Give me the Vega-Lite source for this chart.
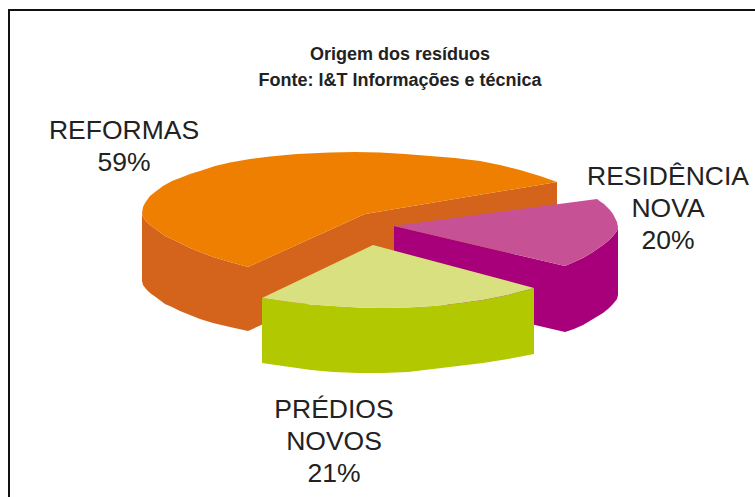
{"$schema":"https://vega.github.io/schema/vega-lite/v6.json","width":755,"height":497,"padding":0,"autosize":"none","background":"white","view":{"stroke":null},
"datasets":{"faces":[
{"face":"Reformas lado","i":1,"x":142,"y":213},{"face":"Reformas lado","i":2,"x":143,"y":217},{"face":"Reformas lado","i":3,"x":146,"y":221},{"face":"Reformas lado","i":4,"x":150,"y":225},{"face":"Reformas lado","i":5,"x":157,"y":230},{"face":"Reformas lado","i":6,"x":165,"y":236},{"face":"Reformas lado","i":7,"x":172,"y":239},{"face":"Reformas lado","i":8,"x":180,"y":243},{"face":"Reformas lado","i":9,"x":190,"y":248},{"face":"Reformas lado","i":10,"x":200,"y":252},{"face":"Reformas lado","i":11,"x":213,"y":257},{"face":"Reformas lado","i":12,"x":230,"y":262},{"face":"Reformas lado","i":13,"x":248,"y":267},{"face":"Reformas lado","i":14,"x":248,"y":331},{"face":"Reformas lado","i":15,"x":230,"y":327},{"face":"Reformas lado","i":16,"x":213,"y":323},{"face":"Reformas lado","i":17,"x":200,"y":319},{"face":"Reformas lado","i":18,"x":190,"y":315},{"face":"Reformas lado","i":19,"x":180,"y":311},{"face":"Reformas lado","i":20,"x":172,"y":307},{"face":"Reformas lado","i":21,"x":165,"y":304},{"face":"Reformas lado","i":22,"x":157,"y":298},{"face":"Reformas lado","i":23,"x":150,"y":293},{"face":"Reformas lado","i":24,"x":146,"y":289},{"face":"Reformas lado","i":25,"x":143,"y":285},{"face":"Reformas lado","i":26,"x":142,"y":281},
{"face":"Reformas interno","i":1,"x":248,"y":267},{"face":"Reformas interno","i":2,"x":365,"y":214},{"face":"Reformas interno","i":3,"x":557,"y":182},{"face":"Reformas interno","i":4,"x":557,"y":246},{"face":"Reformas interno","i":5,"x":365,"y":278},{"face":"Reformas interno","i":6,"x":248,"y":331},
{"face":"Reformas topo","i":1,"x":142,"y":213},{"face":"Reformas topo","i":2,"x":143,"y":207},{"face":"Reformas topo","i":3,"x":145,"y":203},{"face":"Reformas topo","i":4,"x":150,"y":196},{"face":"Reformas topo","i":5,"x":155,"y":192},{"face":"Reformas topo","i":6,"x":163,"y":186},{"face":"Reformas topo","i":7,"x":172,"y":181},{"face":"Reformas topo","i":8,"x":180,"y":178},{"face":"Reformas topo","i":9,"x":190,"y":174},{"face":"Reformas topo","i":10,"x":200,"y":171},{"face":"Reformas topo","i":11,"x":215,"y":166},{"face":"Reformas topo","i":12,"x":230,"y":162.5},{"face":"Reformas topo","i":13,"x":250,"y":159},{"face":"Reformas topo","i":14,"x":270,"y":156.5},{"face":"Reformas topo","i":15,"x":297,"y":154},{"face":"Reformas topo","i":16,"x":330,"y":152.5},{"face":"Reformas topo","i":17,"x":355,"y":152},{"face":"Reformas topo","i":18,"x":380,"y":152.5},{"face":"Reformas topo","i":19,"x":405,"y":154},{"face":"Reformas topo","i":20,"x":430,"y":156},{"face":"Reformas topo","i":21,"x":455,"y":158},{"face":"Reformas topo","i":22,"x":480,"y":161},{"face":"Reformas topo","i":23,"x":500,"y":165},{"face":"Reformas topo","i":24,"x":520,"y":170},{"face":"Reformas topo","i":25,"x":540,"y":176},{"face":"Reformas topo","i":26,"x":557,"y":182},{"face":"Reformas topo","i":27,"x":365,"y":214},{"face":"Reformas topo","i":28,"x":248,"y":267},{"face":"Reformas topo","i":29,"x":230,"y":262},{"face":"Reformas topo","i":30,"x":213,"y":257},{"face":"Reformas topo","i":31,"x":200,"y":252},{"face":"Reformas topo","i":32,"x":190,"y":248},{"face":"Reformas topo","i":33,"x":180,"y":243},{"face":"Reformas topo","i":34,"x":172,"y":239},{"face":"Reformas topo","i":35,"x":165,"y":236},{"face":"Reformas topo","i":36,"x":157,"y":230},{"face":"Reformas topo","i":37,"x":150,"y":225},{"face":"Reformas topo","i":38,"x":146,"y":221},{"face":"Reformas topo","i":39,"x":143,"y":217},
{"face":"Residência interno","i":1,"x":394,"y":226},{"face":"Residência interno","i":2,"x":565,"y":266},{"face":"Residência interno","i":3,"x":565,"y":332},{"face":"Residência interno","i":4,"x":394,"y":292},
{"face":"Residência lado","i":1,"x":565,"y":266},{"face":"Residência lado","i":2,"x":574,"y":262},{"face":"Residência lado","i":3,"x":583,"y":258},{"face":"Residência lado","i":4,"x":593,"y":252},{"face":"Residência lado","i":5,"x":603,"y":245},{"face":"Residência lado","i":6,"x":608,"y":241},{"face":"Residência lado","i":7,"x":613,"y":236},{"face":"Residência lado","i":8,"x":617,"y":231},{"face":"Residência lado","i":9,"x":618,"y":227},{"face":"Residência lado","i":10,"x":618,"y":295},{"face":"Residência lado","i":11,"x":617,"y":299},{"face":"Residência lado","i":12,"x":613,"y":304},{"face":"Residência lado","i":13,"x":608,"y":309},{"face":"Residência lado","i":14,"x":603,"y":313},{"face":"Residência lado","i":15,"x":593,"y":319},{"face":"Residência lado","i":16,"x":583,"y":325},{"face":"Residência lado","i":17,"x":574,"y":329},{"face":"Residência lado","i":18,"x":565,"y":332},
{"face":"Residência topo","i":1,"x":394,"y":226},{"face":"Residência topo","i":2,"x":597,"y":199},{"face":"Residência topo","i":3,"x":601,"y":202},{"face":"Residência topo","i":4,"x":604,"y":204},{"face":"Residência topo","i":5,"x":607,"y":207},{"face":"Residência topo","i":6,"x":610,"y":210},{"face":"Residência topo","i":7,"x":613,"y":214},{"face":"Residência topo","i":8,"x":615,"y":218},{"face":"Residência topo","i":9,"x":617,"y":222},{"face":"Residência topo","i":10,"x":618,"y":227},{"face":"Residência topo","i":11,"x":617,"y":231},{"face":"Residência topo","i":12,"x":613,"y":236},{"face":"Residência topo","i":13,"x":608,"y":241},{"face":"Residência topo","i":14,"x":603,"y":245},{"face":"Residência topo","i":15,"x":593,"y":252},{"face":"Residência topo","i":16,"x":583,"y":258},{"face":"Residência topo","i":17,"x":574,"y":262},{"face":"Residência topo","i":18,"x":565,"y":266},
{"face":"Prédios lado","i":1,"x":262,"y":298},{"face":"Prédios lado","i":2,"x":276,"y":300},{"face":"Prédios lado","i":3,"x":290,"y":302},{"face":"Prédios lado","i":4,"x":311,"y":304.5},{"face":"Prédios lado","i":5,"x":333,"y":306},{"face":"Prédios lado","i":6,"x":358,"y":307.5},{"face":"Prédios lado","i":7,"x":383,"y":308},{"face":"Prédios lado","i":8,"x":408,"y":307.5},{"face":"Prédios lado","i":9,"x":433,"y":306},{"face":"Prédios lado","i":10,"x":458,"y":303.5},{"face":"Prédios lado","i":11,"x":483,"y":300},{"face":"Prédios lado","i":12,"x":508,"y":295},{"face":"Prédios lado","i":13,"x":534,"y":288},{"face":"Prédios lado","i":14,"x":534,"y":354},{"face":"Prédios lado","i":15,"x":508,"y":359},{"face":"Prédios lado","i":16,"x":483,"y":363},{"face":"Prédios lado","i":17,"x":458,"y":366},{"face":"Prédios lado","i":18,"x":433,"y":369},{"face":"Prédios lado","i":19,"x":408,"y":372},{"face":"Prédios lado","i":20,"x":383,"y":373},{"face":"Prédios lado","i":21,"x":358,"y":373},{"face":"Prédios lado","i":22,"x":333,"y":372},{"face":"Prédios lado","i":23,"x":311,"y":370},{"face":"Prédios lado","i":24,"x":290,"y":367},{"face":"Prédios lado","i":25,"x":276,"y":365},{"face":"Prédios lado","i":26,"x":262,"y":363},
{"face":"Prédios topo","i":1,"x":373,"y":245},{"face":"Prédios topo","i":2,"x":534,"y":288},{"face":"Prédios topo","i":3,"x":508,"y":295},{"face":"Prédios topo","i":4,"x":483,"y":300},{"face":"Prédios topo","i":5,"x":458,"y":303.5},{"face":"Prédios topo","i":6,"x":433,"y":306},{"face":"Prédios topo","i":7,"x":408,"y":307.5},{"face":"Prédios topo","i":8,"x":383,"y":308},{"face":"Prédios topo","i":9,"x":358,"y":307.5},{"face":"Prédios topo","i":10,"x":333,"y":306},{"face":"Prédios topo","i":11,"x":311,"y":304.5},{"face":"Prédios topo","i":12,"x":290,"y":302},{"face":"Prédios topo","i":13,"x":276,"y":300},{"face":"Prédios topo","i":14,"x":262,"y":298}
],
"frame":[{"i":1,"x":9,"y":497},{"i":2,"x":9,"y":10},{"i":3,"x":755,"y":10}],
"labels":[{"label":"REFORMAS\n59%","x":124,"y":131},{"label":"RESIDÊNCIA\nNOVA\n20%","x":668,"y":177},{"label":"PRÉDIOS\nNOVOS\n21%","x":334,"y":410}],
"titles":[{"label":"Origem dos resíduos\nFonte: I&T Informações e técnica","x":400,"y":55}]},
"layer":[
{"data":{"name":"frame"},"mark":{"type":"line","stroke":"#111111","strokeWidth":2},"encoding":{"x":{"field":"x","type":"quantitative","scale":{"domain":[0,755]},"axis":null},"y":{"field":"y","type":"quantitative","scale":{"domain":[497,0]},"axis":null},"order":{"field":"i"}}},
{"data":{"name":"faces"},"mark":{"type":"line","strokeWidth":0},"encoding":{"x":{"field":"x","type":"quantitative","scale":{"domain":[0,755]},"axis":null},"y":{"field":"y","type":"quantitative","scale":{"domain":[497,0]},"axis":null},"order":{"field":"i"},"fill":{"field":"face","type":"nominal","legend":null,"scale":{"domain":["Reformas lado","Reformas interno","Reformas topo","Residência interno","Residência lado","Residência topo","Prédios lado","Prédios topo"],"range":["#d4631c","#d4631c","#ef7f00","#a8007a","#a8007a","#c65195","#b2c800","#d9e080"]}}}},
{"data":{"name":"labels"},"mark":{"type":"text","font":"Liberation Sans","fontSize":26.5,"lineHeight":32,"lineBreak":"\n","align":"center","baseline":"middle","color":"#222222"},"encoding":{"x":{"field":"x","type":"quantitative","scale":{"domain":[0,755]},"axis":null},"y":{"field":"y","type":"quantitative","scale":{"domain":[497,0]},"axis":null},"text":{"field":"label"}}},
{"data":{"name":"titles"},"mark":{"type":"text","font":"Liberation Sans","fontWeight":"bold","fontSize":18,"lineHeight":26,"lineBreak":"\n","align":"center","baseline":"middle","color":"#222222"},"encoding":{"x":{"field":"x","type":"quantitative","scale":{"domain":[0,755]},"axis":null},"y":{"field":"y","type":"quantitative","scale":{"domain":[497,0]},"axis":null},"text":{"field":"label"}}}
]}
